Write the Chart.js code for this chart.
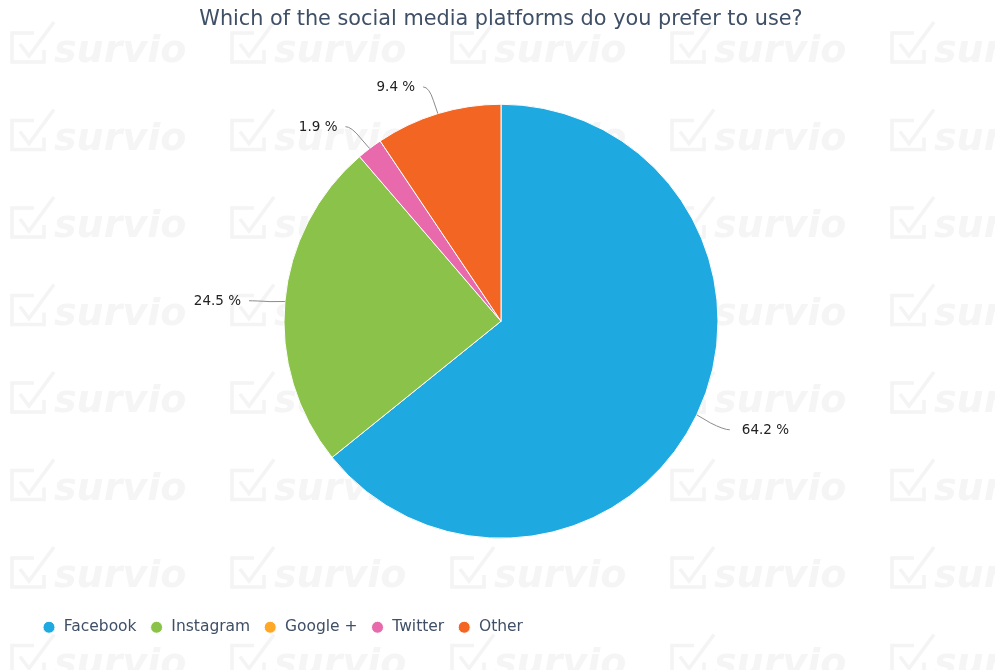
<!DOCTYPE html>
<html>
<head>
<meta charset="utf-8">
<script src="https://cdn.jsdelivr.net/npm/chart.js@4"></script>
<style>
  html, body { margin: 0; padding: 0; background: #fff; }
  #wrap { width: 995px; height: 670px; }
</style>
</head>
<body>
<div id="wrap"><canvas id="grafico" width="995" height="670"></canvas></div>
<script>
// datos
const plataformas = ['Facebook', 'Instagram', 'Google +', 'Twitter', 'Other'];
const porcentajes = [64.2, 24.5, 0, 1.9, 9.4];
const colores = ['#1fa9e1', '#8bc34a', '#ffa726', '#e86aad', '#f26522'];
const titulo = 'Which of the social media platforms do you prefer to use?';
const marcaAgua = 'survio';

const fuente = '"DejaVu Sans", Verdana, sans-serif';

// fondo con la marca de agua
const fondo = {
  id: 'fondo',
  beforeDraw(chart) {
    const ctx = chart.ctx;
    ctx.save();
    ctx.fillStyle = '#fff';
    ctx.fillRect(0, 0, chart.width, chart.height);
    ctx.fillStyle = '#f5f5f5';
    ctx.strokeStyle = '#f4f4f4';
    ctx.lineWidth = 3.5;
    ctx.font = 'italic bold 38px ' + fuente;
    ctx.textBaseline = 'alphabetic';
    for (let y = 0; y < 9; y++) {
      for (let x = 0; x < 5; x++) {
        const ox = 12 + x * 220;
        const oy = 62 + y * 87.5;
        ctx.beginPath();
        ctx.moveTo(ox + 22, oy - 29);
        ctx.lineTo(ox, oy - 29);
        ctx.lineTo(ox, oy);
        ctx.lineTo(ox + 32, oy);
        ctx.lineTo(ox + 32, oy - 12);
        ctx.stroke();
        ctx.beginPath();
        ctx.moveTo(ox + 8, oy - 18);
        ctx.lineTo(ox + 17, oy - 6);
        ctx.lineTo(ox + 42, oy - 40);
        ctx.stroke();
        ctx.fillText(marcaAgua, ox + 42, oy);
      }
    }
    ctx.restore();
  }
};

// etiquetas externas con lineas
const etiquetas = {
  id: 'etiquetas',
  afterDatasetsDraw(chart) {
    const ctx = chart.ctx;
    const meta = chart.getDatasetMeta(0);
    ctx.save();
    ctx.font = '13.5px ' + fuente;
    ctx.fillStyle = '#222';
    ctx.strokeStyle = '#8c8c8c';
    ctx.lineWidth = 1;
    ctx.textBaseline = 'middle';
    meta.data.forEach((arc, i) => {
      if (!porcentajes[i]) return;
      const p = arc.getProps(['x', 'y', 'startAngle', 'endAngle', 'outerRadius'], true);
      const mid = (p.startAngle + p.endAngle) / 2;
      const ex = p.x + Math.cos(mid) * p.outerRadius;
      const ey = p.y + Math.sin(mid) * p.outerRadius;
      const ax = p.x + Math.cos(mid) * (p.outerRadius + 30);
      const ay = p.y + Math.sin(mid) * (p.outerRadius + 30) + 3;
      const dir = Math.cos(mid) >= 0 ? 1 : -1;
      const sx = ax + dir * 6;
      ctx.beginPath();
      ctx.moveTo(sx, ay - 1);
      ctx.quadraticCurveTo(ax, ay - 1, (ax + ex) / 2, (ay + ey) / 2);
      ctx.lineTo(ex, ey);
      ctx.stroke();
      ctx.textAlign = dir > 0 ? 'left' : 'right';
      ctx.fillText(porcentajes[i].toFixed(1) + ' %', ax + dir * (dir > 0 ? 18 : 14), ay);
    });
    ctx.restore();
  }
};

const ctx = document.getElementById('grafico').getContext('2d');
const grafico = new Chart(ctx, {
  type: 'pie',
  data: {
    labels: plataformas,
    datasets: [{
      data: porcentajes,
      backgroundColor: colores,
      borderColor: '#fff',
      borderWidth: 1,
      radius: 217
    }]
  },
  options: {
    responsive: false,
    animation: false,
    layout: { padding: { left: 29, right: 22, top: 0, bottom: 25 } },
    plugins: {
      title: {
        display: true,
        text: titulo,
        color: '#3e4f66',
        font: { family: fuente, size: 20.8, weight: 'normal' },
        padding: { top: 7, bottom: 4 }
      },
      legend: {
        position: 'bottom',
        align: 'start',
        labels: {
          usePointStyle: true,
          pointStyle: 'circle',
          boxWidth: 14,
          boxHeight: 8.5,
          padding: 13,
          color: '#3e4f66',
          font: { family: fuente, size: 15.5 }
        }
      },
      tooltip: { enabled: false }
    }
  },
  plugins: [fondo, etiquetas]
});
</script>
</body>
</html>
